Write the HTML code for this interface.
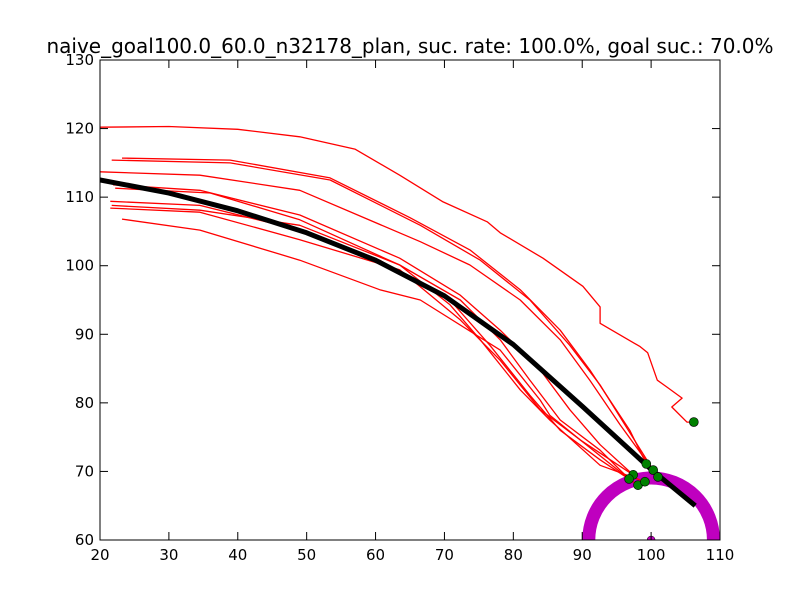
<!DOCTYPE html>
<html><head><meta charset="utf-8"><style>
body{margin:0;background:#fff;}
svg text{font-family:"DejaVu Sans","Liberation Sans",sans-serif;}
</style></head><body>
<svg id="chart" width="800" height="600" xmlns="http://www.w3.org/2000/svg">
<rect x="0" y="0" width="800" height="600" fill="#fff"/>
<defs><clipPath id="plotclip"><rect x="100" y="60" width="620" height="480"/></clipPath></defs>
<text x="410" y="53" font-size="20" text-anchor="middle">naive_goal100.0_60.0_n32178_plan, suc. rate: 100.0%, goal suc.: 70.0%</text>
<g id="plot" clip-path="url(#plotclip)"></g>
<rect x="100" y="60" width="620" height="480" fill="none" stroke="#000" stroke-width="1"/>
<g id="axes"></g>
</svg>
<script>
const xTicks=[20,30,40,50,60,70,80,90,100,110];
const yTicks=[60,70,80,90,100,110,120,130];
const goalX=100, goalY=60, goalR=10;
const planX=[20,30,40,50,60,70,80,90,100,106.4];
const planY=[112.5,110.6,108,104.8,100.8,95.6,88.5,79.5,70.3,65];
const trajX=[
[20,30,40,49,57,63.5,69.8,76.2,78.1,84.3,90.1,92.6,92.6,98.4,99.5,100.9,102.3,104.5,103,105.2,106.2],
[23.2,38.9,53.4,65,73.7,81,86.8,91.1,94,96.9,99.3],
[21.7,38.9,53.4,66.5,75.2,82.4,88.2,92.6,96.2,100.3],
[20,34.5,49,66.5,73.7,81,86.8,91.1,95.5,101],
[21.9,34.5,49,63.5,72.3,78.1,83.9,88.2,92.6,97.4],
[22.2,36,49,63.5,72.3,78.1,82.4,86.8,92.6,96.8],
[21.5,34.5,49,60.6,70.8,76.6,82.4,86.8,92.6,98.1],
[21.7,34.5,49,63.5,70.8,75.2,81,85.3,92.6,99.1],
[21.5,34.5,49,63.5,72.3,78.1,83.9,89.7,96.8],
[23.2,34.5,49,60.6,66.5,78.1,83.9,85.3,89.7,97.4]
];
const trajY=[
[120.2,120.3,119.9,118.8,117,113.2,109.3,106.4,104.8,101.1,97,94,91.6,88.2,87.3,83.3,82.3,80.7,79.4,77.2,77.2],
[115.7,115.4,112.8,107,102.3,96.5,90.6,84.8,80.4,76,71.1],
[115.4,115,112.5,105.9,100.8,95,88.4,82.6,76.8,70.2],
[113.7,113.2,111,103.5,100.1,95,89.2,83.3,76.8,69.2],
[111.8,111,107.4,101.1,95.7,90.6,84.8,79,73.9,69.5],
[111.3,110.6,106.7,100.1,95,89.2,83.3,77.5,73.1,68.9],
[109.4,108.8,105.2,100.8,95,88.4,81.1,76,71.7,68],
[108.8,108.1,105.9,100.1,94.3,89.2,81.9,77.5,70.9,68.5],
[108.4,107.8,103.8,99.4,92.1,86.2,79,74.6,68.9],
[106.8,105.2,100.8,96.5,95,87.7,80.4,78.2,74.6,69.5]
];
const endX=[106.2,99.3,100.3,101,97.4,96.8,98.1,99.1];
const endY=[77.2,71.1,70.2,69.2,69.5,68.9,68,68.5];
const NS="http://www.w3.org/2000/svg";
const X=v=>100+(v-20)*620/90;
const Y=v=>540-(v-60)*480/70;
const plot=document.getElementById('plot');
const axes=document.getElementById('axes');
function mk(tag,attrs,parent){const e=document.createElementNS(NS,tag);for(const k in attrs)e.setAttribute(k,attrs[k]);parent.appendChild(e);return e;}
const ring=mk('ellipse',{cx:X(goalX),cy:Y(goalY),rx:(X(goalX+goalR)-X(goalX))*0.905,ry:(Y(goalY)-Y(goalY+goalR))*0.905,fill:'none',stroke:'#bf00bf','stroke-width':13},plot);


const gc=mk('circle',{cx:X(goalX),cy:Y(goalY),r:4,fill:'#bf00bf',stroke:'#000','stroke-width':0.5},plot);


trajX.forEach((xs,i)=>{
 const pts=xs.map((x,j)=>X(x).toFixed(1)+','+Y(trajY[i][j]).toFixed(1)).join(' ');
 const p=mk('polyline',{points:pts,fill:'none',stroke:'#ff0000','stroke-width':1.3,'stroke-linejoin':'round'},plot);
 
 
});
const pp=mk('polyline',{points:planX.map((x,j)=>X(x)+','+Y(planY[j])).join(' '),fill:'none',stroke:'#000','stroke-width':5,'stroke-linejoin':'round'},plot);


endX.forEach((x,i)=>{
 const c=mk('circle',{cx:X(x),cy:Y(endY[i]),r:4.5,fill:'#008000',stroke:'#000','stroke-width':0.6},plot);
 
 
});
xTicks.forEach(t=>{
 const x=X(t);
 mk('line',{x1:x,y1:540,x2:x,y2:532,stroke:'#000'},axes);
 mk('line',{x1:x,y1:60,x2:x,y2:68,stroke:'#000'},axes);
 const tx=mk('text',{x:x,y:560,'font-size':15,'text-anchor':'middle'},axes);
 tx.textContent=t;
 
 
});
yTicks.forEach(t=>{
 const y=Y(t);
 mk('line',{x1:100,y1:y,x2:108,y2:y,stroke:'#000'},axes);
 mk('line',{x1:720,y1:y,x2:712,y2:y,stroke:'#000'},axes);
 const tx=mk('text',{x:94,y:y+5,'font-size':15,'text-anchor':'end'},axes);
 tx.textContent=t;
 
 
});
</script>
</body></html>
